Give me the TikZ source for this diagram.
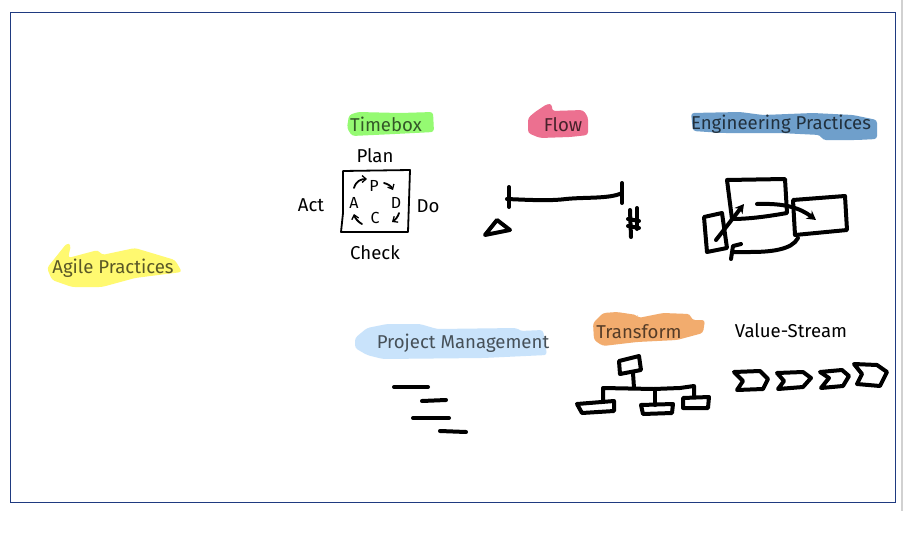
\documentclass[tikz,border=0pt]{standalone}
\usepackage{fontspec}
\setmainfont{Fira Sans}
\usetikzlibrary{arrows.meta}
\definecolor{frameblue}{HTML}{1F3A80}
\definecolor{hlyellow}{HTML}{FFF970}
\definecolor{hlgreen}{HTML}{95FA72}
\definecolor{hlpink}{HTML}{EC7090}
\definecolor{hlblue}{HTML}{6F9FCB}
\definecolor{hlpale}{HTML}{C9E3FB}
\definecolor{hlorange}{HTML}{F2AC6E}
\tikzset{
  x=1pt,y=-1pt,
  hilite/.style={fill=#1,draw=none,rounded corners=3pt},
  lbl/.style={inner sep=0pt,font=\fontsize{18.6}{22}\selectfont,text=black},
  pdca/.style={inner sep=0pt,font=\fontsize{16}{18}\selectfont},
  thin pen/.style={draw=black,line width=1.8pt,line cap=round,line join=round},
  thick pen/.style={draw=black,line width=4pt,line cap=round,line join=round},
  tip/.style={-{Straight Barb[length=4pt,width=7pt,line width=1.3pt]}},
  bigtip/.style={-{Stealth[length=9pt,width=10pt]}}
}
\begin{document}
\begin{tikzpicture}
\useasboundingbox (0,0) rectangle (903,552);
\fill[white] (0,0) rectangle (903,552);
\fill[black!18] (901,0) rectangle (903,511);
\draw[frameblue,line width=1pt] (10.5,12.5) rectangle (895.5,502.5);
% highlights
\fill[hilite=hlyellow] (47,268) -- (55,258) -- (67,243) -- (71,245) -- (68,258) -- (98,250) -- (102,255) -- (135,248) -- (175,260) -- (182,272) -- (135,278) -- (102,287) -- (72,287) -- (52,280) -- cycle;
\fill[hilite=hlgreen] (349,115) -- (358,112) -- (400,113) -- (433,112) -- (434,132) -- (395,134) -- (352,136) -- (347,128) -- cycle;
\fill[hilite=hlpink] (528,118) -- (535,112) -- (547,104) -- (552,104) -- (552,111) -- (583,110) -- (588,117) -- (588,135) -- (570,137) -- (540,138) -- (528,133) -- cycle;
\fill[hilite=hlblue] (691,113) -- (740,112) -- (763,115) -- (813,113) -- (853,115) -- (877,120) -- (877,139) -- (857,140) -- (823,140) -- (820,135) -- (780,133) -- (723,133) -- (693,131) -- cycle;
\fill[hilite=hlpale] (355,338) -- (367,328) -- (387,324) -- (420,324) -- (437,329) -- (517,328) -- (520,331) -- (543,330) -- (547,355) -- (483,358) -- (383,359) -- (367,355) -- (355,348) -- cycle;
\fill[hilite=hlorange] (593,323) -- (603,313) -- (617,312) -- (637,315) -- (638,318) -- (663,313) -- (690,314) -- (692,320) -- (705,320) -- (703,333) -- (677,340) -- (637,342) -- (603,346) -- (594,340) -- cycle;
% labels
\node[lbl,text=black!65!hlyellow] (agile) at (113,268.5) {Agile Practices};
\node[lbl,text=black!65!hlgreen] (timebox) at (386,124.5) {Timebox};
\node[lbl,text=black!70!hlpink] (flow) at (563,124.5) {Flow};
\node[lbl,text=black!70!hlblue] (eng) at (781,124.5) {Engineering Practices};
\node[lbl,text=black!65!hlpale] (pm) at (463,343.5) {Project Management};
\node[lbl,text=black!65!hlorange] (transform) at (639,331.5) {Transform};
\node[lbl] (plan) at (375,156) {Plan};
\node[lbl] (act) at (311,205) {Act};
\node[lbl] (do) at (428,206) {Do};
\node[lbl] (check) at (375,253) {Check};
\node[lbl] (vs) at (791,331) {Value-Stream};
% PDCA
\draw[thin pen] (343,171) -- (410,170) -- (408,232) -- (341,232) -- (343,213) -- cycle;
\node[pdca] (p) at (374,186) {P};
\node[pdca] (d) at (396,203) {D};
\node[pdca] (c) at (375,218) {C};
\node[pdca] (a) at (354,203) {A};
\draw[thin pen,tip] (354,188) .. controls (356,181) and (361,179) .. (367,179);
\draw[thin pen,tip] (384,183) .. controls (388,184) and (391,186) .. (393,190);
\draw[thin pen,tip] (399,213) .. controls (398,217) and (395,220) .. (392,222);
\draw[thin pen,tip] (362,224) .. controls (358,222) and (355,218) .. (354,214);
% Flow
\draw[thick pen] (509,187) -- (509,207);
\draw[thick pen] (622,183) -- (622,203);
\draw[thick pen] (507,199) .. controls (530,200) and (550,201) .. (566,199) .. controls (585,197) and (610,199) .. (622,193);
\draw[thick pen] (485,235) -- (497,220) -- (510,230) -- cycle;
\draw[thick pen] (630,210) -- (631,237);
\draw[thick pen] (637,208) -- (637,229);
\draw[thick pen] (628,219) -- (639,221);
\draw[thick pen] (628,226) -- (639,228);
% Engineering
\draw[thick pen] (727,180) -- (785,179) -- (787,213) .. controls (770,216) and (750,219) .. (732,219) -- cycle;
\draw[thick pen] (793,200) -- (845,196) -- (847,230) -- (795,235) -- cycle;
\draw[thick pen] (704,217) -- (722,213) -- (727,248) -- (707,252) -- cycle;
\draw[thick pen,bigtip] (716,240) -- (744,204);
\draw[thick pen,bigtip] (757,204) .. controls (785,203) and (800,208) .. (816,220);
\draw[thick pen] (798,238) .. controls (792,250) and (770,252) .. (750,252) -- (734,252);
\draw[thick pen] (731,259) -- (733,246) -- (741,244);
% Project management
\draw[thick pen] (394,387) -- (428,387);
\draw[thick pen] (422,401) -- (446,400);
\draw[thick pen] (413,418) -- (449,418);
\draw[thick pen] (440,431) -- (466,432);
% Transform
\draw[thick pen] (619,361) -- (639,356) -- (641,370) -- (620,374) -- cycle;
\draw[thick pen] (633,373) -- (634,388);
\draw[thick pen] (603,400) -- (603,388) -- (654,389) -- (680,388) -- (694,386) -- (694,397);
\draw[thick pen] (655,390) -- (655,405);
\draw[thick pen] (577,404) -- (614,401) -- (614,411) -- (582,413) -- cycle;
\draw[thick pen] (641,405) -- (673,404) -- (672,413) -- (643,414) -- cycle;
\draw[thick pen] (683,398) -- (709,397) -- (708,408) -- (683,408) -- cycle;
% Value stream
\draw[thick pen] (734,372) -- (760,371) -- (768,379) -- (763,389) -- (737,390) -- (743,381) -- cycle;
\draw[thick pen] (777,373) -- (803,372) -- (811,378) -- (803,387) -- (778,389) -- (784,381) -- cycle;
\draw[thick pen] (820,372) -- (842,370) -- (849,376) -- (843,386) -- (821,388) -- (829,378) -- cycle;
\draw[thick pen] (854,364) -- (877,365) -- (887,372) -- (880,386) -- (857,384) -- (862,374) -- cycle;
\end{tikzpicture}
\end{document}
